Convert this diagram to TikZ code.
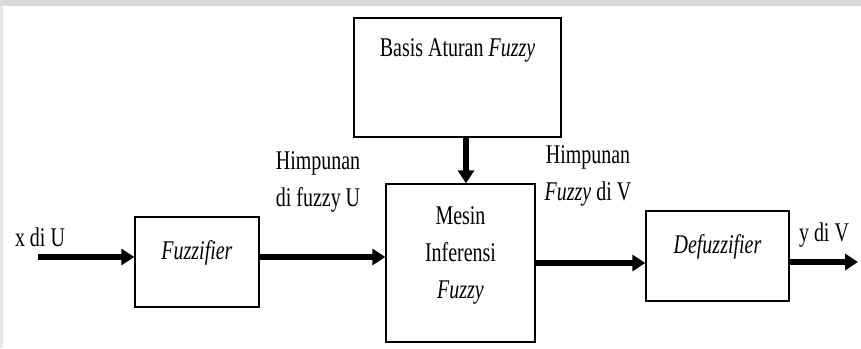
\documentclass[tikz,border=0pt]{standalone}
\usepackage{fontspec}
\setmainfont{Liberation Serif}[FakeStretch=0.74]
\usetikzlibrary{arrows.meta,calc}

\begin{document}
\begin{tikzpicture}[x=1pt,y=-1pt,
  every node/.style={font=\fontsize{27}{37}\selectfont, inner sep=0pt},
  blok/.style={draw=black, line width=1.3pt, fill=white},
  flow/.style={line width=5.5pt, -{Triangle[length=13pt,width=16pt]}},
  lbl/.style={align=center}]

  % page and the light band along the top and left edge
  \useasboundingbox (0,0) rectangle (861,348);
  \fill[gray!30] (0,0) rectangle (861,6);
  \fill[gray!18] (0,6) rectangle (3,348);

  % blocks
  \node[blok, minimum width=207pt, minimum height=119pt,
        label={[yshift=27.5pt]center:Basis Aturan \textit{Fuzzy}}]
        (basis) at (457.5,77.5) {};
  \node[blok, minimum width=149pt, minimum height=158pt,
        label={[yshift=8pt, align=center]center:Mesin\\Inferensi\\\textit{Fuzzy}}]
        (mesin) at (460.5,263) {};
  \node[blok, minimum width=124pt, minimum height=90pt,
        label={[yshift=9pt]center:\textit{Fuzzifier}}]
        (fuzz) at (197,262) {};
  \node[blok, minimum width=143pt, minimum height=90pt,
        label={[yshift=9pt]center:\textit{Defuzzifier}}]
        (defuzz) at (717.5,256) {};

  % free ends of the input and output arrows
  \coordinate (xin) at (38,257);
  \coordinate (yout) at (858,262);

  % connectors
  \draw[flow] (xin) -- (xin -| fuzz.west);
  \draw[flow] (fuzz.east |- xin) -- (mesin.west |- xin);
  \draw[flow] (mesin.east) -- (mesin.east -| defuzz.west);
  \draw[flow] (defuzz.east |- yout) -- (yout);
  \draw[flow] ([xshift=8.5pt]basis.south) -- ([xshift=5.5pt]mesin.north);

  % signal labels
  \node (lx) at (40,237) {x di U};
  \node[lbl] (lu) at (318,181.5) {Himpunan\\di fuzzy U};
  \node[lbl] (lv) at (588,176) {Himpunan\\\textit{Fuzzy} di V};
  \node (ly) at (824,235) {y di V};
\end{tikzpicture}
\end{document}
